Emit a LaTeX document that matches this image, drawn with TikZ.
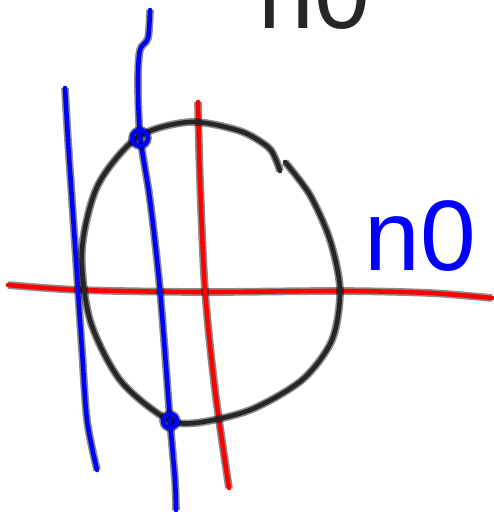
\documentclass[tikz,border=0pt]{standalone}
\usepackage{fontspec}
\setmainfont{Liberation Sans}
\usepackage{tikz}
\usetikzlibrary{positioning}

\begin{document}
\begin{tikzpicture}[
    x=0.02cm, y=-0.02cm,
    pen/.style={line width=2.6pt, line cap=round, line join=round,
      preaction={draw, line width=4.4pt, draw opacity=0.45}},
    redpen/.style={pen, red},
    bluepen/.style={pen, blue},
    blackpen/.style={pen, black!85},
    label/.style={font=\fontsize{57}{60}\selectfont, inner sep=0pt, anchor=base west}
]
\useasboundingbox (0,0) rectangle (494,512);
\clip (0,0) rectangle (494,512);

% red axes
\draw[redpen] plot[smooth] coordinates {(8,285) (80,290) (200,292) (340,291) (430,293) (492,298)};
\draw[redpen] plot[smooth] coordinates {(198,102) (200,180) (205,290) (215,390) (229,488)};

% the closed curve
\draw[blackpen] plot[smooth] coordinates {(285,162) (310,195) (330,240) (340,290) (332,340) (302,380) (250,410) (195,423) (165,418) (120,380) (90,320) (82,250) (98,185) (138,137) (190,122) (240,131) (268,147) (276,160) (280,171)};

% blue lines
\draw[bluepen] plot[smooth] coordinates {(65,88) (68,140) (72,200) (78,290) (82,350) (87,420) (97,470)};
\draw[bluepen] plot[smooth] coordinates {(150,10) (148,38) (140,50) (138,80) (140,135) (150,200) (160,290) (170,420) (175,480) (176,510)};

% intersection marks
\draw[bluepen] (140,138) circle (8);
\draw[bluepen] (170,421) circle (7);

% labels
\node[label, text=blue] (nright) at (364,270) {n0};
\node[label, text=black!85] (ntop) at (258,28) {n0};
\end{tikzpicture}
\end{document}
